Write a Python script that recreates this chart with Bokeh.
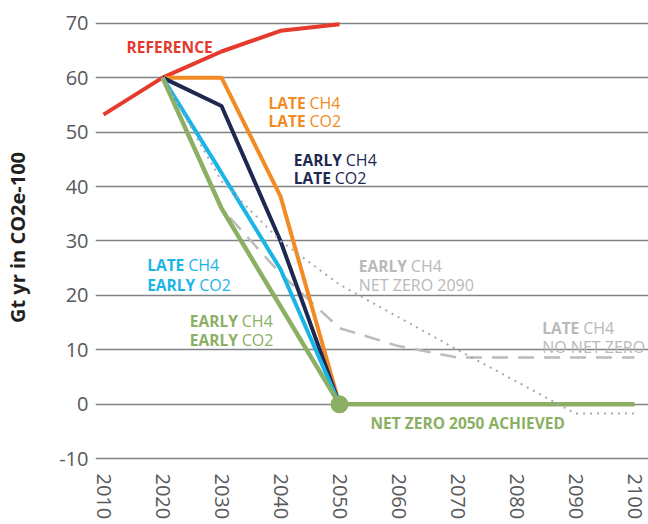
from bokeh.plotting import figure
from bokeh.models import Range1d, FixedTicker, Label, CustomJSTickFormatter
from bokeh.embed import file_html
from bokeh.resources import INLINE

# ---- data ----
ref_years = [2010, 2020, 2030, 2040, 2050]
ref_vals = [53.2, 60, 64.8, 68.6, 69.8]

late_late_years = [2020, 2030, 2040, 2050]
late_late_vals = [60, 60, 38.2, 0]

early_late_years = [2020, 2030, 2040, 2050]
early_late_vals = [60, 54.8, 30, 0]

late_early_years = [2020, 2030, 2040, 2050]
late_early_vals = [60, 42.5, 24.8, 0]

early_early_years = [2020, 2030, 2040, 2050, 2100]
early_early_vals = [60, 36, 18, 0, 0]

no_nz_years = [2020, 2030, 2040, 2050, 2060, 2070, 2100]
no_nz_vals = [60, 36, 24, 14, 10.7, 8.6, 8.6]

nz2090_years = [2020, 2030, 2040, 2050, 2060, 2070, 2080, 2090, 2100]
nz2090_vals = [60, 41, 30, 22, 16, 10, 4.2, -1.7, -1.7]

nz_point_year = [2050]
nz_point_val = [0]

y_ticks = [-10, 0, 10, 20, 30, 40, 50, 60, 70]
x_ticks = [2010, 2020, 2030, 2040, 2050, 2060, 2070, 2080, 2090, 2100]

RED = "#e63a2c"
ORANGE = "#f28b24"
NAVY = "#1e2850"
CYAN = "#1ab5e6"
GREEN = "#8baf63"
GRAY_TXT = "#b9b9b9"
GRAY_DASH = "#bcbcbc"
GRAY_DOT = "#a9a9a9"
FONT = "Open Sans"

p = figure(width=648, height=524, output_backend="svg", toolbar_location=None,
           x_range=Range1d(2008.64, 2102.37), y_range=Range1d(-11.05, 72.33),
           min_border_left=95, min_border_right=0, min_border_top=10,
           min_border_bottom=60)
p.outline_line_color = None
p.background_fill_color = "white"
p.border_fill_color = "white"

p.xgrid.grid_line_color = None
p.ygrid.grid_line_color = "#808285"
p.ygrid.grid_line_width = 1.3
p.ygrid.ticker = FixedTicker(ticks=y_ticks)

p.yaxis.ticker = FixedTicker(ticks=y_ticks)
p.xaxis.ticker = FixedTicker(ticks=x_ticks)
for ax in (p.xaxis, p.yaxis):
    ax.axis_line_color = None
    ax.major_tick_line_color = None
    ax.minor_tick_line_color = None
    ax.major_tick_out = 0
    ax.major_tick_in = 0
    ax.major_label_text_font = FONT
    ax.major_label_text_font_size = "20px"
    ax.major_label_text_color = "#58595b"
    ax.formatter = CustomJSTickFormatter(code="return tick.toString();")
p.yaxis.major_label_standoff = 7
p.xaxis.major_label_standoff = 9
p.xaxis.major_label_orientation = "vertical"
p.yaxis.axis_label = "Gt yr in CO2e-100"
p.yaxis.axis_label_text_font = FONT
p.yaxis.axis_label_text_font_style = "bold"
p.yaxis.axis_label_text_font_size = "20px"
p.yaxis.axis_label_text_color = "#231f20"
p.yaxis.axis_label_standoff = 25

# ---- lines ----
p.line(ref_years, ref_vals, line_color=RED, line_width=4)
p.line(no_nz_years, no_nz_vals, line_color=GRAY_DASH, line_width=2.5, line_dash="16 10")
p.line(late_late_years, late_late_vals, line_color=ORANGE, line_width=4)
p.line(early_late_years, early_late_vals, line_color=NAVY, line_width=4)
p.line(late_early_years, late_early_vals, line_color=CYAN, line_width=4)
p.line(early_early_years, early_early_vals, line_color=GREEN, line_width=4.5)
p.line(nz2090_years, nz2090_vals, line_color=GRAY_DOT, line_width=2, line_dash="2 5")
p.scatter(nz_point_year, nz_point_val, size=18, fill_color=GREEN, line_color=None)

# ---- labels ----
def lab(x, y, text, color, bold, xoff=0):
    p.add_layout(Label(x=x, y=y, text=text, x_offset=xoff, text_color=color,
                       text_font=FONT, text_font_size="15.5px" if bold else "16px",
                       text_font_style="bold" if bold else "normal",
                       text_baseline="alphabetic", text_align="left"))

def two_word(x, y, w1, w2, color, off):
    lab(x, y, w1, color, True)
    lab(x, y, w2, color, False, off)

lab(2013.9, 65.6, "REFERENCE", RED, True)

two_word(2037.96, 55.3, "LATE", "CH4", ORANGE, 41)
two_word(2037.96, 51.95, "LATE", "CO2", ORANGE, 41)

two_word(2042.25, 44.9, "EARLY", "CH4", NAVY, 52)
two_word(2042.25, 41.5, "LATE", "CO2", NAVY, 41)

two_word(2017.4, 25.5, "LATE", "CH4", CYAN, 41)
two_word(2017.4, 22.0, "EARLY", "CO2", CYAN, 52)

two_word(2024.62, 15.3, "EARLY", "CH4", GREEN, 52)
two_word(2024.62, 11.85, "EARLY", "CO2", GREEN, 52)

two_word(2053.27, 25.4, "EARLY", "CH4", GRAY_TXT, 52)
lab(2053.27, 22.0, "NET ZERO 2090", GRAY_TXT, False)

two_word(2084.35, 14.06, "LATE", "CH4", GRAY_TXT, 41)
lab(2084.35, 10.62, "NO NET ZERO", GRAY_TXT, False)

lab(2055.25, -3.46, "NET ZERO 2050 ACHIEVED", GREEN, True)

open("out.html", "w").write(file_html(p, INLINE))
